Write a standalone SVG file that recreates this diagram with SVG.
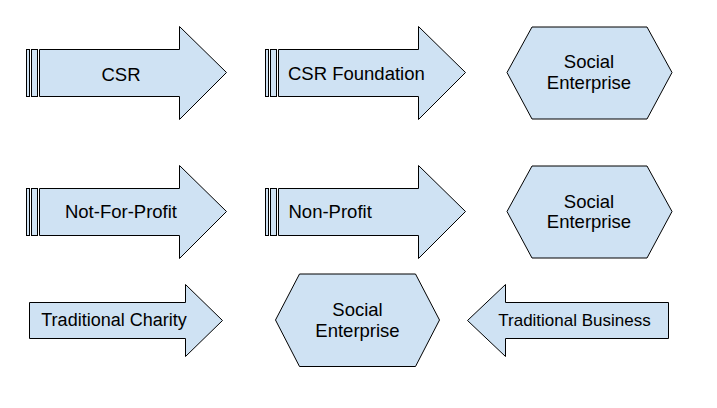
<svg xmlns="http://www.w3.org/2000/svg" width="717" height="408" viewBox="0 0 717 408">
<style>
.s{fill:#cfe2f3;stroke:#000;stroke-width:1;stroke-linejoin:miter}
.t{font-family:"Liberation Sans",Arial,sans-serif;font-size:18.5px;fill:#000}
.m{text-anchor:middle}
</style>
<rect width="717" height="408" fill="#fff"/>
<g id="csr">
<rect class="s" x="26.5" y="49.5" width="3" height="47"/>
<rect class="s" x="31.5" y="49.5" width="6" height="47"/>
<polygon class="s" points="39.5,49.5 179.5,49.5 179.5,26.5 226.5,72.5 179.5,119.5 179.5,96.5 39.5,96.5"/>
<text class="t m" x="121" y="81">CSR</text>
</g>
<g id="csr-foundation">
<rect class="s" x="265.5" y="49.5" width="3" height="47"/>
<rect class="s" x="270.5" y="49.5" width="6" height="47"/>
<polygon class="s" points="278.5,49.5 418.5,49.5 418.5,26.5 465.5,72.5 418.5,119.5 418.5,96.5 278.5,96.5"/>
<text class="t" x="288" y="80">CSR Foundation</text>
</g>
<g id="se1">
<polygon class="s" points="507,72.5 532,27 647,27 672,72.5 647,119 532,119"/>
<text class="t m" x="589" y="68">Social</text>
<text class="t m" x="589" y="88.5">Enterprise</text>
</g>
<g id="nfp">
<rect class="s" x="26.5" y="188.5" width="3" height="47"/>
<rect class="s" x="31.5" y="188.5" width="6" height="47"/>
<polygon class="s" points="39.5,188.5 179.5,188.5 179.5,165.5 226.5,211.5 179.5,258.5 179.5,235.5 39.5,235.5"/>
<text class="t m" x="121" y="218">Not-For-Profit</text>
</g>
<g id="non-profit">
<rect class="s" x="265.5" y="188.5" width="3" height="47"/>
<rect class="s" x="270.5" y="188.5" width="6" height="47"/>
<polygon class="s" points="278.5,188.5 418.5,188.5 418.5,165.5 465.5,211.5 418.5,258.5 418.5,235.5 278.5,235.5"/>
<text class="t" x="288.5" y="218">Non-Profit</text>
</g>
<g id="se2">
<polygon class="s" points="507,211.5 532,166 647,166 672,211.5 647,258 532,258"/>
<text class="t m" x="589" y="207.5">Social</text>
<text class="t m" x="589" y="228">Enterprise</text>
</g>
<g id="charity">
<polygon class="s" points="29.5,302.5 185.5,302.5 185.5,284.5 222.5,320.5 185.5,356.5 185.5,338.5 29.5,338.5"/>
<text class="t m" x="114" y="326" style="font-size:18px">Traditional Charity</text>
</g>
<g id="se3">
<polygon class="s" points="275.5,320 299.5,274 415.5,274 439.5,320 415.5,366.5 299.5,366.5"/>
<text class="t m" x="357.5" y="316">Social</text>
<text class="t m" x="357.5" y="337">Enterprise</text>
</g>
<g id="business">
<polygon class="s" points="668.5,302.5 505.5,302.5 505.5,284.5 467.5,320.5 505.5,356.5 505.5,338.5 668.5,338.5"/>
<text class="t m" x="574.5" y="326" style="font-size:17px">Traditional Business</text>
</g>
<g id="connectors"/>
</svg>
